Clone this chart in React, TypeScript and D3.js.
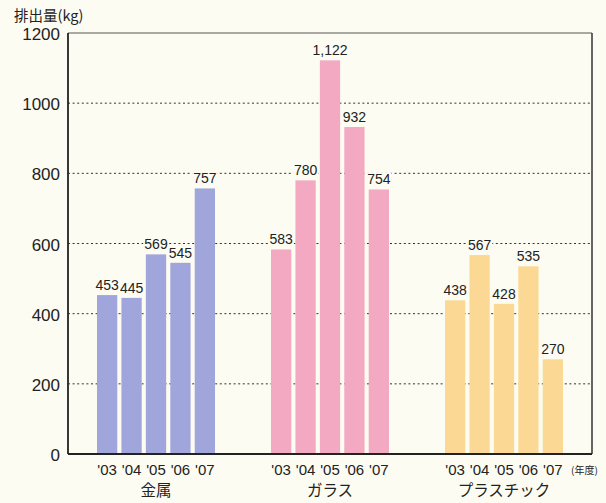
import React from 'react';
import * as d3 from 'd3';

// 品目ごとの排出量（kg）
const categories = ['金属', 'ガラス', 'プラスチック'];
const years = ["'03", "'04", "'05", "'06", "'07"];
const metalValues = [453, 445, 569, 545, 757];
const glassValues = [583, 780, 1122, 932, 754];
const plasticValues = [438, 567, 428, 535, 270];
const yTicks = [0, 200, 400, 600, 800, 1000, 1200];

const seriesValues = [metalValues, glassValues, plasticValues];
const colors = ['#a0a6dc', '#f3a9c2', '#fbd995'];

const W = 606, H = 503;
const bg = '#fdfcf2';

const App: React.FC = () => {
  const y = d3.scaleLinear().domain([0, 1200]).range([454, 33]);
  const gx = d3.scalePoint<string>().domain(categories).range([156, 504]);
  const groupW = 118;
  const bx = d3.scaleBand<string>().domain(years).range([-groupW / 2, groupW / 2]).paddingInner(0.17);
  const fmt = d3.format(',');

  const left = 68, right = 592;
  const font = '"Liberation Sans", Arial, sans-serif';
  const cjk = '"Noto Sans CJK JP", sans-serif';

  return (
    <div style={{ position: 'absolute', left: 0, top: 0 }}>
      <svg width={W} height={H} style={{ display: 'block', background: bg }}>
        {/* 目盛り線（点線） */}
        {yTicks.filter(t => t > 0 && t < 1200).map(t => (
          <line key={t} x1={left} x2={right} y1={y(t)} y2={y(t)}
            stroke="#333" strokeWidth={1} strokeDasharray="2,2.6" />
        ))}

        {/* 棒 */}
        {categories.map((c, ci) => (
          <g key={c} transform={`translate(${gx(c)},0)`}>
            {seriesValues[ci].map((v, i) => (
              <rect key={i} x={bx(years[i])} y={y(v)} width={bx.bandwidth()} height={y(0) - y(v)}
                fill={colors[ci]} />
            ))}
            {seriesValues[ci].map((v, i) => {
              const cx = (bx(years[i]) as number) + bx.bandwidth() / 2;
              const label = fmt(v);
              const tw = label.length * 7.8;
              return (
                <g key={'l' + i}>
                  <rect x={cx - tw / 2 - 1} y={y(v) - 17} width={tw + 2} height={14} fill={bg} />
                  <text x={cx} y={y(v) - 5} textAnchor="middle" fontSize={14} fontFamily={font} fill="#222">
                    {label}
                  </text>
                </g>
              );
            })}
            {years.map(yr => (
              <text key={yr} x={(bx(yr) as number) + bx.bandwidth() / 2} y={475} textAnchor="middle"
                fontSize={15} fontFamily={font} fill="#222">{yr}</text>
            ))}
            <text x={0} y={496} textAnchor="middle" fontSize={15.5} fontFamily={cjk} fill="#222">{c}</text>
          </g>
        ))}

        {/* 枠 */}
        <line x1={left} x2={right} y1={y(1200)} y2={y(1200)} stroke="#555" strokeWidth={1} />
        <line x1={right} x2={right} y1={y(1200)} y2={y(0)} stroke="#333" strokeWidth={1.5} />
        <line x1={left} x2={left} y1={y(1200)} y2={y(0)} stroke="#222" strokeWidth={1.8} />
        <line x1={left} x2={right} y1={y(0)} y2={y(0)} stroke="#222" strokeWidth={1.8} />

        {/* y軸ラベル */}
        {yTicks.map(t => (
          <text key={t} x={60} y={y(t) + 7} textAnchor="end" fontSize={17} fontFamily={font} fill="#222">{t}</text>
        ))}
        <text x={14} y={21} fontSize={14.5} fontFamily={cjk} fill="#222">排出量(kg)</text>
        <text x={571} y={474} fontSize={10} fontFamily={cjk} fill="#222">(年度)</text>
      </svg>
    </div>
  );
};

export default App;
